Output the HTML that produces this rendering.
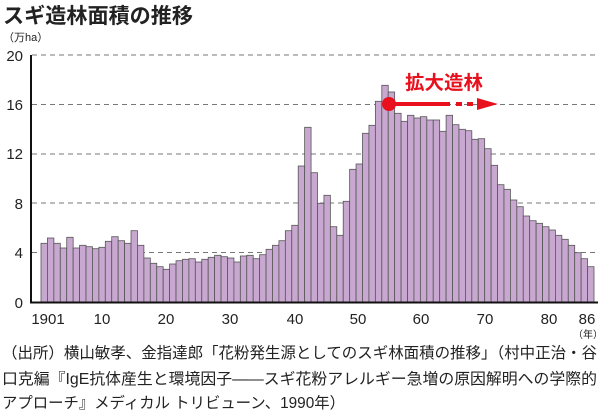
<!DOCTYPE html>
<html><head><meta charset="utf-8"><style>
html,body{margin:0;padding:0;background:#fff;}
svg{display:block;font-family:"Liberation Sans","Noto Sans CJK JP",sans-serif;}
</style></head><body>
<svg width="600" height="418" viewBox="0 0 600 418" xmlns="http://www.w3.org/2000/svg">
<text x="3" y="23" font-size="21" font-weight="bold" fill="#222" textLength="190" lengthAdjust="spacingAndGlyphs">スギ造林面積の推移</text>
<text x="3" y="41" font-size="11" fill="#222">（万ha）</text>
<g stroke="#777" stroke-width="1" stroke-dasharray="5,4">
<line x1="32" y1="55" x2="598" y2="55"/>
<line x1="32" y1="104.5" x2="598" y2="104.5"/>
<line x1="32" y1="154" x2="598" y2="154"/>
<line x1="32" y1="203" x2="598" y2="203"/>
<line x1="32" y1="252.5" x2="598" y2="252.5"/>
</g>
<g font-size="15" fill="#222" text-anchor="end">
<text x="23" y="61">20</text><text x="23" y="110">16</text><text x="23" y="159">12</text>
<text x="23" y="209">8</text><text x="23" y="258">4</text><text x="23" y="308">0</text>
</g>
<g fill="#c8a8d0" stroke="#555" stroke-width="0.8">
<rect x="41.00" y="243.3" width="6.43" height="58.7"/>
<rect x="47.43" y="238.0" width="6.43" height="64.0"/>
<rect x="53.86" y="243.3" width="6.43" height="58.7"/>
<rect x="60.29" y="248.0" width="6.43" height="54.0"/>
<rect x="66.72" y="237.3" width="6.43" height="64.7"/>
<rect x="73.15" y="248.0" width="6.43" height="54.0"/>
<rect x="79.58" y="245.3" width="6.43" height="56.7"/>
<rect x="86.01" y="246.7" width="6.43" height="55.3"/>
<rect x="92.44" y="248.7" width="6.43" height="53.3"/>
<rect x="98.87" y="247.3" width="6.43" height="54.7"/>
<rect x="105.30" y="241.3" width="6.43" height="60.7"/>
<rect x="111.73" y="236.7" width="6.43" height="65.3"/>
<rect x="118.16" y="240.7" width="6.43" height="61.3"/>
<rect x="124.59" y="243.3" width="6.43" height="58.7"/>
<rect x="131.02" y="230.7" width="6.43" height="71.3"/>
<rect x="137.45" y="245.3" width="6.43" height="56.7"/>
<rect x="143.88" y="258.0" width="6.43" height="44.0"/>
<rect x="150.31" y="263.3" width="6.43" height="38.7"/>
<rect x="156.74" y="266.7" width="6.43" height="35.3"/>
<rect x="163.17" y="269.3" width="6.43" height="32.7"/>
<rect x="169.60" y="264.0" width="6.43" height="38.0"/>
<rect x="176.03" y="260.7" width="6.43" height="41.3"/>
<rect x="182.46" y="259.3" width="6.43" height="42.7"/>
<rect x="188.89" y="258.7" width="6.43" height="43.3"/>
<rect x="195.32" y="262.0" width="6.43" height="40.0"/>
<rect x="201.76" y="259.3" width="6.43" height="42.7"/>
<rect x="208.19" y="257.3" width="6.43" height="44.7"/>
<rect x="214.62" y="255.3" width="6.43" height="46.7"/>
<rect x="221.05" y="256.7" width="6.43" height="45.3"/>
<rect x="227.48" y="258.0" width="6.43" height="44.0"/>
<rect x="233.91" y="262.0" width="6.43" height="40.0"/>
<rect x="240.34" y="256.0" width="6.43" height="46.0"/>
<rect x="246.77" y="255.3" width="6.43" height="46.7"/>
<rect x="253.20" y="258.7" width="6.43" height="43.3"/>
<rect x="259.63" y="254.7" width="6.43" height="47.3"/>
<rect x="266.06" y="249.3" width="6.43" height="52.7"/>
<rect x="272.49" y="245.3" width="6.43" height="56.7"/>
<rect x="278.92" y="240.7" width="6.43" height="61.3"/>
<rect x="285.35" y="230.7" width="6.43" height="71.3"/>
<rect x="291.78" y="225.3" width="6.43" height="76.7"/>
<rect x="298.21" y="166.0" width="6.43" height="136.0"/>
<rect x="304.64" y="127.3" width="6.43" height="174.7"/>
<rect x="311.07" y="172.7" width="6.43" height="129.3"/>
<rect x="317.50" y="203.3" width="6.43" height="98.7"/>
<rect x="323.93" y="195.3" width="6.43" height="106.7"/>
<rect x="330.36" y="226.7" width="6.43" height="75.3"/>
<rect x="336.79" y="235.3" width="6.43" height="66.7"/>
<rect x="343.22" y="201.3" width="6.43" height="100.7"/>
<rect x="349.65" y="169.3" width="6.43" height="132.7"/>
<rect x="356.08" y="164.0" width="6.43" height="138.0"/>
<rect x="362.51" y="133.3" width="6.43" height="168.7"/>
<rect x="368.94" y="125.3" width="6.43" height="176.7"/>
<rect x="375.37" y="101.3" width="6.43" height="200.7"/>
<rect x="381.80" y="85.3" width="6.43" height="216.7"/>
<rect x="388.23" y="92.0" width="6.43" height="210.0"/>
<rect x="394.66" y="113.3" width="6.43" height="188.7"/>
<rect x="401.09" y="121.3" width="6.43" height="180.7"/>
<rect x="407.52" y="115.3" width="6.43" height="186.7"/>
<rect x="413.95" y="118.0" width="6.43" height="184.0"/>
<rect x="420.38" y="116.7" width="6.43" height="185.3"/>
<rect x="426.81" y="120.0" width="6.43" height="182.0"/>
<rect x="433.24" y="120.0" width="6.43" height="182.0"/>
<rect x="439.67" y="131.3" width="6.43" height="170.7"/>
<rect x="446.10" y="115.3" width="6.43" height="186.7"/>
<rect x="452.53" y="124.7" width="6.43" height="177.3"/>
<rect x="458.96" y="129.3" width="6.43" height="172.7"/>
<rect x="465.39" y="130.7" width="6.43" height="171.3"/>
<rect x="471.82" y="139.3" width="6.43" height="162.7"/>
<rect x="478.25" y="138.7" width="6.43" height="163.3"/>
<rect x="484.68" y="148.7" width="6.43" height="153.3"/>
<rect x="491.11" y="165.3" width="6.43" height="136.7"/>
<rect x="497.54" y="184.7" width="6.43" height="117.3"/>
<rect x="503.97" y="189.3" width="6.43" height="112.7"/>
<rect x="510.40" y="200.0" width="6.43" height="102.0"/>
<rect x="516.83" y="206.7" width="6.43" height="95.3"/>
<rect x="523.26" y="216.0" width="6.43" height="86.0"/>
<rect x="529.69" y="220.7" width="6.43" height="81.3"/>
<rect x="536.12" y="223.3" width="6.43" height="78.7"/>
<rect x="542.55" y="226.7" width="6.43" height="75.3"/>
<rect x="548.98" y="230.0" width="6.43" height="72.0"/>
<rect x="555.41" y="235.3" width="6.43" height="66.7"/>
<rect x="561.84" y="239.3" width="6.43" height="62.7"/>
<rect x="568.27" y="245.3" width="6.43" height="56.7"/>
<rect x="574.70" y="252.7" width="6.43" height="49.3"/>
<rect x="581.13" y="258.7" width="6.43" height="43.3"/>
<rect x="587.56" y="266.7" width="6.43" height="35.3"/>
</g>
<line x1="31" y1="55" x2="31" y2="303" stroke="#111" stroke-width="2"/>
<line x1="30" y1="302.5" x2="598" y2="302.5" stroke="#111" stroke-width="2"/>
<g font-size="15" fill="#222" text-anchor="middle">
<text x="48" y="324">1901</text><text x="102" y="324">10</text><text x="166" y="324">20</text>
<text x="230" y="324">30</text><text x="295" y="324">40</text><text x="358" y="324">50</text>
<text x="421" y="324">60</text><text x="485" y="324">70</text><text x="549" y="324">80</text>
<text x="587" y="324">86</text>
</g>
<text x="588" y="338" font-size="10" fill="#222" text-anchor="middle">（年）</text>
<text x="405" y="89" font-size="19" font-weight="bold" fill="#e8101c" textLength="78" lengthAdjust="spacingAndGlyphs">拡大造林</text>
<circle cx="389" cy="104" r="7" fill="#e8101c"/>
<line x1="389" y1="104" x2="450" y2="104" stroke="#e8101c" stroke-width="4"/>
<line x1="456" y1="104" x2="462" y2="104" stroke="#e8101c" stroke-width="4"/>
<line x1="467" y1="104" x2="473" y2="104" stroke="#e8101c" stroke-width="4"/>
<polygon points="477,98 498,104 477,110" fill="#e8101c"/>
<g font-size="15.5" fill="#222">
<text x="2" y="358" textLength="595" lengthAdjust="spacingAndGlyphs">（出所）横山敏孝、金指達郎「花粉発生源としてのスギ林面積の推移」（村中正治・谷</text>
<text x="2" y="384" textLength="595" lengthAdjust="spacingAndGlyphs">口克編『IgE抗体産生と環境因子――スギ花粉アレルギー急増の原因解明への学際的</text>
<text x="2" y="408" textLength="343" lengthAdjust="spacingAndGlyphs">アプローチ』メディカル トリビューン、1990年）</text>
</g>
</svg>
</body></html>
